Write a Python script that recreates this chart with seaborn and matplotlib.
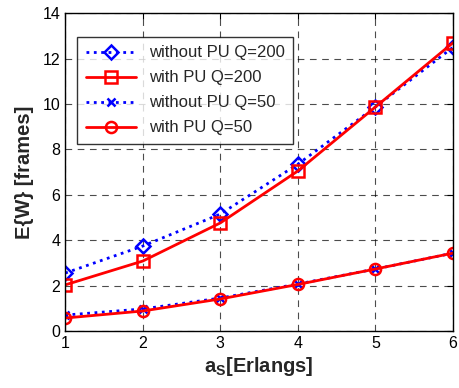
import numpy as np
import pandas as pd
import matplotlib
matplotlib.use('Agg')
import matplotlib.pyplot as plt
import seaborn as sns

a_s = [1, 2, 3, 4, 5, 6]
wo_pu_200 = [2.55, 3.74, 5.15, 7.35, 9.87, 12.5]
w_pu_200 = [2.03, 3.08, 4.76, 7.05, 9.87, 12.7]
wo_pu_50 = [0.70, 0.97, 1.45, 2.07, 2.73, 3.43]
w_pu_50 = [0.57, 0.88, 1.41, 2.05, 2.73, 3.43]

series = [
	('without PU Q=200', wo_pu_200, 'blue', ':', 'D', 7),
	('with PU Q=200', w_pu_200, 'red', '-', 's', 8),
	('without PU Q=50', wo_pu_50, 'blue', ':', 'x', 6),
	('with PU Q=50', w_pu_50, 'red', '-', 'o', 8),
	]

sns.set_style('white')
plt.rcParams['font.family'] = ['Liberation Sans', 'DejaVu Sans']
plt.rcParams['mathtext.fontset'] = 'custom'
plt.rcParams['mathtext.rm'] = 'Liberation Sans:bold'
plt.rcParams['mathtext.bf'] = 'Liberation Sans:bold'

fig = plt.figure(figsize=(4.59, 3.88), dpi=100)
ax = fig.add_axes([0.142, 0.147, 0.845, 0.819])

for name, vals, col, ls, mk, ms in series:
	df = pd.DataFrame({'x': a_s, 'y': vals})
	sns.lineplot(
		data=df, x='x', y='y', ax=ax,
		color=col, linestyle=ls, linewidth=2,
		marker=mk, markersize=ms,
		markerfacecolor='none', markeredgecolor=col, markeredgewidth=1.8,
		label=name
		)

ax.set_xlim(1, 6)
ax.set_ylim(0, 14)
ax.set_xticks(a_s)
ax.set_yticks(range(0, 15, 2))
ax.tick_params(direction='in', labelsize=11.5, length=4, top=True, right=True, colors='black')
ax.grid(True, color='black', linestyle=(0, (6, 5)), linewidth=0.8, alpha=0.7)
for s in ax.spines.values():
	s.set_color('black')
	s.set_linewidth(1)

ax.set_xlabel(r'a$_\mathregular{S}$[Erlangs]', fontsize=14.5, fontweight='bold', labelpad=3)
ax.set_ylabel('E{W} [frames]', fontsize=14.5, fontweight='bold', labelpad=6)

leg = ax.legend(loc='upper left', bbox_to_anchor=(0.031, 0.925), fontsize=12,
	frameon=True, fancybox=False, edgecolor='black', handlelength=3.0,
	borderpad=0.5, labelspacing=0.6, borderaxespad=0)
leg.get_frame().set_linewidth(1)

fig.savefig('out.png', dpi=100)
